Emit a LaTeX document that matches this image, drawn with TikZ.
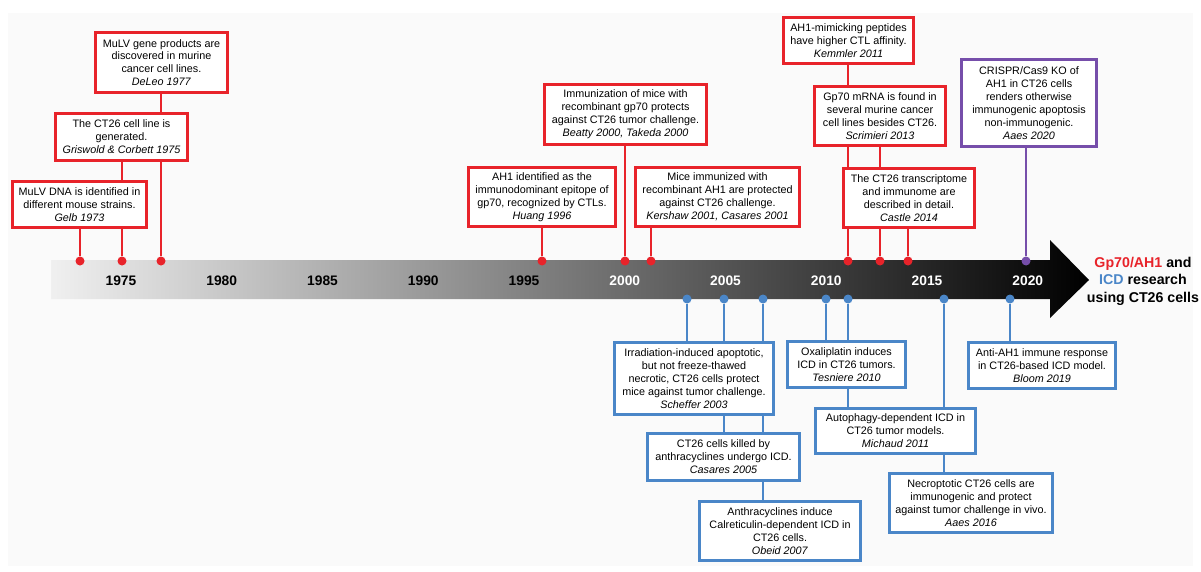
\documentclass[tikz,border=0pt]{standalone}
\usepackage{fontspec}
\setmainfont{Liberation Sans}
\usetikzlibrary{backgrounds}
\definecolor{tlred}{RGB}{232,35,42}
\definecolor{tlblue}{RGB}{74,134,200}
\definecolor{tlpurple}{RGB}{118,78,170}
\begin{document}
\begin{tikzpicture}[x=1pt, y=-1pt,
    box/.style={draw, line width=2.6pt, fill=white, align=center, inner sep=1pt,
        font=\fontsize{10.8}{12.9}\selectfont},
    redbox/.style={box, draw=tlred},
    bluebox/.style={box, draw=tlblue},
    purplebox/.style={box, draw=tlpurple},
    rdot/.style={circle, fill=tlred, inner sep=0pt, minimum size=9pt},
    bdot/.style={circle, fill=tlblue, inner sep=0pt, minimum size=9pt},
    pdot/.style={circle, fill=tlpurple, inner sep=0pt, minimum size=9pt},
    rline/.style={draw=tlred, line width=2.8pt},
    bline/.style={draw=tlblue, line width=2.8pt},
    pline/.style={draw=tlpurple, line width=2.8pt},
    year/.style={font=\bfseries\fontsize{13.8}{14}\selectfont}]
    \useasboundingbox (0,0) rectangle (1201,572);

    % timeline arrow
    \shade[left color=black!6, middle color=black!60, right color=black]
        (51,260) -- (1050,260) -- (1050,240) -- (1089,280) -- (1050,318)
        -- (1050,299) -- (51,299) -- cycle;
    \foreach \yr in {1975,1980,...,2020} {
        \pgfmathsetmacro{\xx}{121+(\yr-1975)*20.15}
        \ifnum\yr<2000 \def\yrcol{black}\else \def\yrcol{white}\fi
        \node[year, text=\yrcol] (y\yr) at (\xx,281) {\yr};
    }
    \node[font=\bfseries\fontsize{14.2}{17.5}\selectfont, align=center] (title) at (1143,281)
        {\textcolor{tlred}{Gp70/AH1} and\\\textcolor{tlblue}{ICD} research\\using CT26 cells};

    % dots on the timeline
    \node[rdot] (r73) at (80,261) {};
    \node[rdot] (r75) at (122,261) {};
    \node[rdot] (r77) at (161,261) {};
    \node[rdot] (r96) at (542,261) {};
    \node[rdot] (r00) at (625,261) {};
    \node[rdot] (r01) at (651,261) {};
    \node[rdot] (r11) at (848,261) {};
    \node[rdot] (r13) at (880,261) {};
    \node[rdot] (r14) at (908,261) {};
    \node[pdot] (p20) at (1026,261) {};
    \node[bdot] (b03) at (687,299) {};
    \node[bdot] (b05) at (724,299) {};
    \node[bdot] (b07) at (763,299) {};
    \node[bdot] (b10) at (826,299) {};
    \node[bdot] (b11) at (848,299) {};
    \node[bdot] (b16) at (944,299) {};
    \node[bdot] (b19) at (1010,299) {};

    % gp70 / AH1 boxes
    \node[redbox, minimum width=134, minimum height=46] (gelb) at (79.5,204.5)
        {MuLV DNA is identified in\\different mouse strains.\\\textit{Gelb 1973}};
    \node[redbox, minimum width=132, minimum height=47] (griswold) at (121.5,137)
        {The CT26 cell line is\\generated.\\\textit{Griswold \& Corbett 1975}};
    \node[redbox, minimum width=132, minimum height=60] (deleo) at (161.5,62.5)
        {MuLV gene products are\\discovered in murine\\cancer cell lines.\\\textit{DeLeo 1977}};
    \node[redbox, minimum width=147, minimum height=59] (huang) at (542,197)
        {AH1 identified as the\\immunodominant epitope of\\gp70, recognized by CTLs.\\\textit{Huang 1996}};
    \node[redbox, minimum width=162, minimum height=60] (beatty) at (625.5,114.5)
        {Immunization of mice with\\recombinant gp70 protects\\against CT26 tumor challenge.\\\textit{Beatty 2000, Takeda 2000}};
    \node[redbox, minimum width=164, minimum height=59] (kershaw) at (717.5,197)
        {Mice immunized with\\recombinant AH1 are protected\\against CT26 challenge.\\\textit{Kershaw 2001, Casares 2001}};
    \node[redbox, minimum width=130, minimum height=46] (kemmler) at (848.5,40.5)
        {AH1-mimicking peptides\\have higher CTL affinity.\\\textit{Kemmler 2011}};
    \node[redbox, minimum width=131, minimum height=59] (scrimieri) at (880,116)
        {Gp70 mRNA is found in\\several murine cancer\\cell lines besides CT26.\\\textit{Scrimieri 2013}};
    \node[redbox, minimum width=131, minimum height=59] (castle) at (909,198)
        {The CT26 transcriptome\\and immunome are\\described in detail.\\\textit{Castle 2014}};
    \node[purplebox, minimum width=135, minimum height=87] (aaes20) at (1029,103)
        {CRISPR/Cas9 KO of\\AH1 in CT26 cells\\renders otherwise\\immunogenic apoptosis\\non-immunogenic.\\\textit{Aaes 2020}};

    % ICD boxes
    \node[bluebox, minimum width=159, minimum height=72] (scheffer) at (694,378.5)
        {Irradiation-induced apoptotic,\\but not freeze-thawed\\necrotic, CT26 cells protect\\mice against tumor challenge.\\\textit{Scheffer 2003}};
    \node[bluebox, minimum width=152, minimum height=47] (casares) at (723.5,457)
        {CT26 cells killed by\\anthracyclines undergo ICD.\\\textit{Casares 2005}};
    \node[bluebox, minimum width=161, minimum height=59] (obeid) at (780,531)
        {Anthracyclines induce\\Calreticulin-dependent ICD in\\CT26 cells.\\\textit{Obeid 2007}};
    \node[bluebox, minimum width=118, minimum height=46] (tesniere) at (846.5,364.5)
        {Oxaliplatin induces\\ICD in CT26 tumors.\\\textit{Tesniere 2010}};
    \node[bluebox, minimum width=160, minimum height=45] (michaud) at (895.5,431)
        {Autophagy-dependent ICD in\\CT26 tumor models.\\\textit{Michaud 2011}};
    \node[bluebox, minimum width=163, minimum height=59] (aaes16) at (971,503)
        {Necroptotic CT26 cells are\\immunogenic and protect\\against tumor challenge in vivo.\\\textit{Aaes 2016}};
    \node[bluebox, minimum width=147, minimum height=46] (bloom) at (1042,365.5)
        {Anti-AH1 immune response\\in CT26-based ICD model.\\\textit{Bloom 2019}};

    % connectors behind the boxes
    \begin{pgfonlayer}{background}
        \fill[black!2] (8,13) rectangle (1193,566);
        \draw[rline] (r73) -- (r73 |- gelb.south);
        \draw[rline] (r75) -- (r75 |- griswold.south);
        \draw[rline] (r77) -- (r77 |- deleo.south);
        \draw[rline] (r96) -- (r96 |- huang.south);
        \draw[rline] (r00) -- (r00 |- beatty.south);
        \draw[rline] (r01) -- (r01 |- kershaw.south);
        \draw[rline] (r11) -- (r11 |- kemmler.south);
        \draw[rline] (r13) -- (r13 |- scrimieri.south);
        \draw[rline] (r14) -- (r14 |- castle.south);
        \draw[pline] (p20) -- (p20 |- aaes20.south);
        \draw[bline] (b03) -- (b03 |- scheffer.north);
        \draw[bline] (b05) -- (b05 |- casares.north);
        \draw[bline] (b07) -- (b07 |- obeid.north);
        \draw[bline] (b10) -- (b10 |- tesniere.north);
        \draw[bline] (b11) -- (b11 |- michaud.north);
        \draw[bline] (b16) -- (b16 |- aaes16.north);
        \draw[bline] (b19) -- (b19 |- bloom.north);
    \end{pgfonlayer}
\end{tikzpicture}
\end{document}
